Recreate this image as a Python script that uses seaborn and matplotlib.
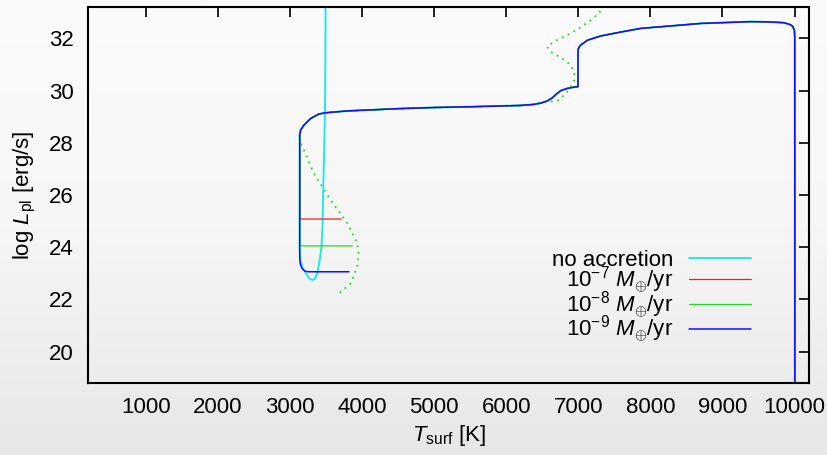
import numpy as np
import pandas as pd
import matplotlib
matplotlib.use("Agg")
import matplotlib.pyplot as plt
import seaborn as sns

# ---------------- data ----------------
# shared evolutionary track (from T=10000 K down to the vertical drop)
main_T = [10003, 10003, 10002, 9998, 9975, 9946, 9849, 9600, 9391, 8698, 7866, 7588,
          7311, 7130, 7033, 7003, 6996, 6996, 6940, 6846, 6760, 6707, 6640, 6569,
          6480, 6384, 6200, 5508, 4994, 4537, 3800, 3497, 3400, 3289, 3196, 3150, 3136]
main_L = [18.0, 25.0, 32.0, 32.3, 32.45, 32.52, 32.6, 32.63, 32.64, 32.57, 32.38, 32.24,
          32.09, 31.93, 31.74, 31.62, 31.5, 30.15, 30.13, 30.08, 30.0, 29.89, 29.72, 29.60,
          29.52, 29.47, 29.43, 29.38, 29.35, 29.31, 29.22, 29.15, 29.10, 28.93, 28.68, 28.49, 28.3]

# end parts of each track
noacc_T = [3136, 3150, 3180, 3219, 3265, 3312, 3350, 3381, 3413, 3437, 3452, 3464, 3478, 3487, 3492, 3496]
noacc_L = [23.9, 23.45, 23.2, 23.02, 22.82, 22.74, 22.8, 23.0, 23.5, 24.0, 24.8, 26.44, 28.0, 29.15, 31.0, 34.0]

acc7_T = [3136, 3713]
acc7_L = [25.08, 25.08]

acc8_T = [3136, 3867]
acc8_L = [24.05, 24.05]

acc9_T = [3136, 3145, 3172, 3210, 3260, 3820]
acc9_L = [23.6, 23.35, 23.17, 23.08, 23.06, 23.06]

# dotted green track
dot_T = [7380, 7333, 7286, 7147, 7009, 6894, 6755, 6662, 6567, 6613, 6778, 6894, 6940,
         6945, 6870, 6800, 6740, 6660, 6569, 6480, 6384, 6200, 5508, 4994, 4537, 3800, 3497, 3400,
         3289, 3196, 3150, 3136, 3330, 3566, 3797, 3935, 3953, 3935, 3843, 3681]
dot_L = [33.5, 33.15, 32.96, 32.64, 32.38, 32.19, 32.0, 31.87, 31.68, 31.49, 31.23, 30.98, 30.72,
         30.40, 30.02, 29.83, 29.64, 29.58, 29.58, 29.52, 29.47, 29.43, 29.38, 29.35, 29.31, 29.22, 29.15, 29.10,
         28.93, 28.68, 28.49, 28.1, 26.84, 25.8, 24.92, 24.16, 23.77, 23.25, 22.61, 22.23]

labels = ["no accretion",
          r"10$^{-7}$ $M_{\oplus}$/yr",
          r"10$^{-8}$ $M_{\oplus}$/yr",
          r"10$^{-9}$ $M_{\oplus}$/yr"]
colors = ["#22e8ee", "#ff1a1a", "#1ee01e", "#1010ff"]
widths = [1.4, 0.9, 0.9, 1.1]

x_ticks = [1000, 2000, 3000, 4000, 5000, 6000, 7000, 8000, 9000, 10000]
y_ticks = [20, 22, 24, 26, 28, 30, 32]

# ---------------- style ----------------
sns.set_theme(style="white")
plt.rcParams["font.family"] = ["Liberation Sans", "DejaVu Sans"]
plt.rcParams["mathtext.fontset"] = "custom"
plt.rcParams["mathtext.rm"] = "Liberation Sans"
plt.rcParams["mathtext.it"] = "Liberation Sans:italic"
plt.rcParams["mathtext.bf"] = "Liberation Sans:bold"
plt.rcParams["text.color"] = "black"
plt.rcParams["axes.labelcolor"] = "black"

fig = plt.figure(figsize=(8.27, 4.55), dpi=100)

# soft grey gradient background
bg = fig.add_axes([0, 0, 1, 1], zorder=-10)
grad = np.linspace(0, 1, 256).reshape(-1, 1)
bg.imshow(grad, aspect="auto", cmap=matplotlib.colors.LinearSegmentedColormap.from_list(
    "g", ["#fbfbfb", "#f6f6f6", "#e7e7e7"]), extent=[0, 1, 0, 1], origin="upper")
bg.set_axis_off()

ax = fig.add_axes([88/827, (455-383)/455, (809-88)/827, (383-7)/455])
ax.set_facecolor("none")

tails = [(noacc_T, noacc_L), (acc7_T, acc7_L), (acc8_T, acc8_L), (acc9_T, acc9_L)]

# dotted green curve (drawn underneath)
ddf = pd.DataFrame({"T": dot_T, "L": dot_L})
sns.lineplot(data=ddf, x="T", y="L", sort=False, estimator=None, ax=ax,
             color="#1ee01e", lw=1.3, linestyle=(0, (1, 2.6)), legend=False)

for (tT, tL), lab, c, w in zip(tails, labels, colors, widths):
    # main path down to branch point, then the tail
    T = list(main_T) + list(tT)
    L = list(main_L) + list(tL)
    df = pd.DataFrame({"T": T, "L": L})
    sns.lineplot(data=df, x="T", y="L", sort=False, estimator=None, ax=ax,
                 color=c, lw=w, label=lab)

ax.set_xlim(200, 10200)
ax.set_ylim(18.8, 33.2)
ax.set_xticks(x_ticks)
ax.set_yticks(y_ticks)
ax.tick_params(axis="both", which="both", direction="in", length=7, width=1.2,
               top=True, right=True, labelsize=16, pad=10, colors="black")
ax.tick_params(axis="x", labeltop=False)
ax.tick_params(axis="y", labelright=False)
for s in ax.spines.values():
    s.set_visible(True)
    s.set_linewidth(1.5)
    s.set_color("black")

ax.set_xlabel(r"$T_{\rm surf}$ [K]", fontsize=16, labelpad=4)
ax.set_ylabel(r"log $L_{\rm pl}$ [erg/s]", fontsize=16, labelpad=8)

h, l = ax.get_legend_handles_labels()
leg = ax.legend(h, l, loc="lower right", bbox_to_anchor=(0.92, 0.10), frameon=False,
                markerfirst=False, fontsize=16, handlelength=2.8, handletextpad=0.7,
                labelspacing=-0.30, borderpad=0, borderaxespad=0)
for t in leg.get_texts():
    t.set_color("black")

fig.savefig("out.png", dpi=100)
